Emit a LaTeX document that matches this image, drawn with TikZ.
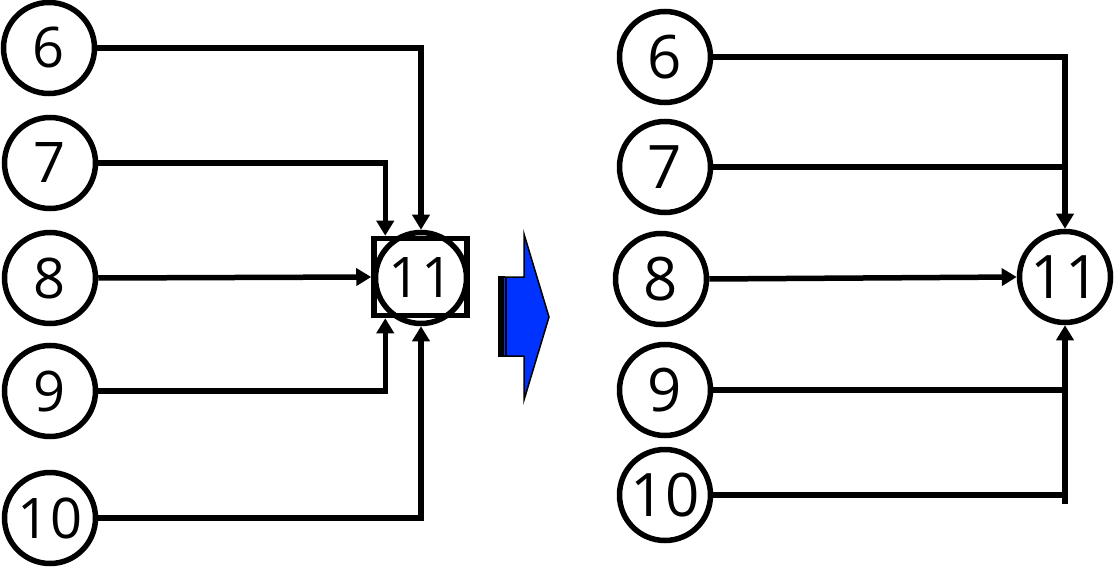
\documentclass[tikz,border=0pt]{standalone}
\usepackage{fontspec}
\setmainfont{Open Sans}
\usetikzlibrary{arrows.meta,calc}
\definecolor{blockblue}{RGB}{0,51,255}
\begin{document}
\begin{tikzpicture}[x=1pt,y=-1pt,
  nd/.style={circle,draw,line width=5.5pt,minimum size=91pt,inner sep=0pt,font=\fontsize{56}{60}\selectfont},
  ndr/.style={nd,font=\fontsize{60}{64}\selectfont},
  conn/.style={line width=5.5pt},
  arr/.style={conn,-{Triangle[length=15pt,width=17pt]}}]
\useasboundingbox (0,0) rectangle (1115,569);
% left diagram
\node[nd] (L6) at (49,48) {6};
\node[nd] (L7) at (50,163) {7};
\node[nd] (L8) at (50,278) {8};
\node[nd] (L9) at (50,391) {9};
\node[nd] (L10) at (50,518) {10};
\node[nd] (L11) at (421,278) {11};
\node[draw,line width=5.5pt,minimum width=93pt,minimum height=77pt,inner sep=0pt] (B) at (420.5,277) {};
\coordinate (Bt) at ($(B.north west)+(14,0)$);
\coordinate (Bb) at ($(B.south west)+(14,0)$);
\draw[arr] (L6.east) -| (L11.north);
\draw[arr] (L7.east) -| (Bt);
\draw[arr] (L8.east) -- (B.west);
\draw[arr] (L9.east) -| (Bb);
\draw[arr] (L10.east) -| (L11.south);
% block arrow
\fill[black] (498,276) rectangle (505,357);
\draw[line width=1.5pt,fill=blockblue] (503,277) -- (524,277) -- (524,234) -- (549,317) -- (524,400) -- (524,356) -- (503,356) -- cycle;
\draw[line width=2pt] (506,277) -- (506,356);
% right diagram
\node[ndr] (R6) at (665,57) {6};
\node[ndr] (R7) at (665,167) {7};
\node[ndr] (R8) at (661,279) {8};
\node[ndr] (R9) at (665,390) {9};
\node[ndr] (R10) at (665,495) {10};
\node[ndr] (R11) at (1065,277) {11};
\draw[arr] (R6.east) -| (R11.north);
\draw[conn] (R7.east) -- (R7.east -| R11.north);
\draw[arr] (R8.east) -- (R11.west);
\draw[conn] (R9.east) -- (R9.east -| R11.south);
\draw[conn] (R10.east) -- (R10.east -| R11.south);
\coordinate (Rend) at ($(R10.east -| R11.south)+(0,9)$);
\draw[arr] (Rend) -- (R11.south);
\end{tikzpicture}
\end{document}
